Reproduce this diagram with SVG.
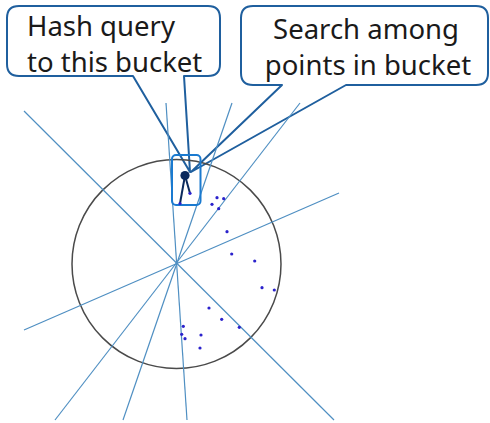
<svg xmlns="http://www.w3.org/2000/svg" width="490" height="423" viewBox="0 0 490 423">
  <style>
    .plane { stroke: #4f8fc2; stroke-width: 1.2; fill: none; }
    .sphere { stroke: #4a4a4a; stroke-width: 1.5; fill: none; }
    .pt { fill: #2b22cc; }
    .callout { fill: none; stroke: #1f5f9e; stroke-width: 2; stroke-linejoin: round; }
    .label { font-family: "Noto Sans", "Open Sans", sans-serif; font-size: 27.5px; fill: #1a1a1a; }
    .bucket { fill: none; stroke: #1a7ad0; stroke-width: 2; }
    .q { stroke: #0b2a5c; stroke-width: 2; fill: none; }
  </style>

  <!-- callout: hash query -->
  <g id="callout-hash">
    <path class="callout" d="M19,6 H208 Q220,6 220,18 V64 Q220,76 208,76 H184 L190,172 L133,76 H19 Q7,76 7,64 V18 Q7,6 19,6 Z"/>
    <text class="label" x="27" y="36">Hash query</text>
    <text class="label" x="27" y="72">to this bucket</text>
  </g>

  <!-- callout: search bucket -->
  <g id="callout-search">
    <path class="callout" d="M253,6 H476 Q488,6 488,18 V73 Q488,85 476,85 H346 L191,172 L282,85 H253 Q241,85 241,73 V18 Q241,6 253,6 Z"/>
    <text class="label" x="366" y="39" text-anchor="middle">Search among</text>
    <text class="label" x="368" y="75" text-anchor="middle">points in bucket</text>
  </g>

  <!-- unit sphere -->
  <g id="sphere">
    <circle class="sphere" cx="176.5" cy="264" r="104.5"/>
  </g>

  <!-- random hyperplanes through the origin -->
  <g id="connectors">
    <line class="plane" x1="24" y1="111" x2="334" y2="420"/>
    <line class="plane" x1="166" y1="103" x2="187" y2="420"/>
    <line class="plane" x1="232" y1="103" x2="123" y2="420"/>
    <line class="plane" x1="300" y1="103" x2="55" y2="420"/>
    <line class="plane" x1="339" y1="193" x2="24" y2="330"/>
  </g>

  <!-- data points -->
  <g id="points">
    <circle class="pt" cx="217" cy="197.7" r="1.6"/>
    <circle class="pt" cx="223.7" cy="198.7" r="1.6"/>
    <circle class="pt" cx="212" cy="204.3" r="1.6"/>
    <circle class="pt" cx="218.7" cy="208.7" r="1.6"/>
    <circle class="pt" cx="227" cy="231.7" r="1.6"/>
    <circle class="pt" cx="231.7" cy="254" r="1.6"/>
    <circle class="pt" cx="254.7" cy="261" r="1.6"/>
    <circle class="pt" cx="262" cy="287.7" r="1.6"/>
    <circle class="pt" cx="274.3" cy="290" r="1.6"/>
    <circle class="pt" cx="209" cy="308" r="1.6"/>
    <circle class="pt" cx="221.7" cy="319.3" r="1.6"/>
    <circle class="pt" cx="239.3" cy="327.3" r="1.6"/>
    <circle class="pt" cx="183.3" cy="326.3" r="1.6"/>
    <circle class="pt" cx="181.7" cy="334.3" r="1.6"/>
    <circle class="pt" cx="185" cy="338.7" r="1.6"/>
    <circle class="pt" cx="201" cy="335" r="1.6"/>
    <circle class="pt" cx="200" cy="348" r="1.6"/>
  </g>

  <!-- bucket holding the query -->
  <g id="bucket">
    <rect class="bucket" x="172" y="155" width="28.5" height="50" rx="4"/>
    <line class="q" x1="185" y1="175.5" x2="180" y2="203.5"/>
    <line class="q" x1="185" y1="175.5" x2="190" y2="193.3"/>
    <circle class="pt" cx="180" cy="203.5" r="1.6"/>
    <circle class="pt" cx="190" cy="193.3" r="1.6"/>
    <circle cx="185" cy="175.5" r="4.6" fill="#0b2a5c"/>
  </g>
</svg>
